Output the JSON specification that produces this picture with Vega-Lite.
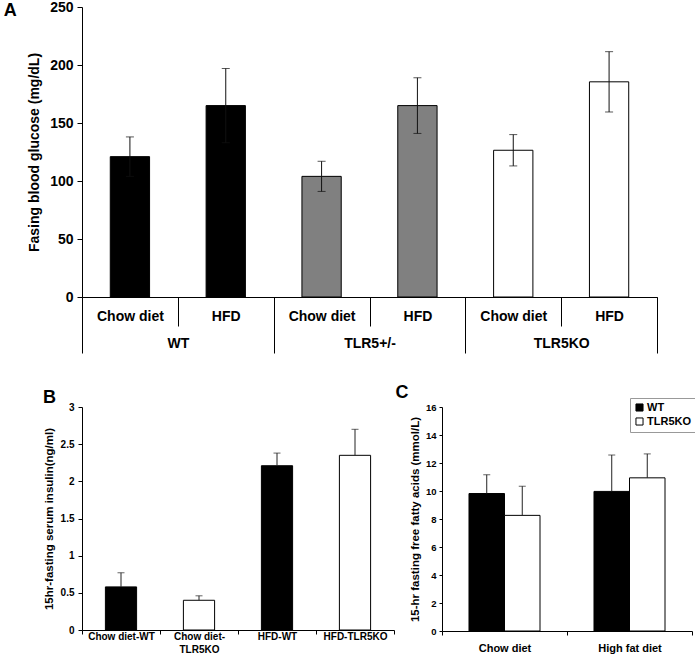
{
  "$schema": "https://vega.github.io/schema/vega-lite/v6.json",
  "padding": {"left": 3, "top": 0, "right": 0, "bottom": 0},
  "background": "white",
  "config": {
    "font": "Liberation Sans",
    "view": {"stroke": null},
    "axis": {
      "labelFont": "Liberation Sans",
      "titleFont": "Liberation Sans",
      "labelFontWeight": "bold",
      "titleFontWeight": "bold",
      "labelColor": "#000",
      "titleColor": "#000",
      "domainColor": "#000",
      "tickColor": "#000",
      "grid": false,
      "labelAngle": 0
    },
    "title": {"font": "Liberation Sans", "fontWeight": "bold", "fontSize": 18, "color": "#000", "anchor": "start", "frame": "bounds"}
  },
  "spacing": 30,
  "resolve": {"scale": {"x": "independent", "y": "independent", "color": "independent"}, "legend": {"color": "independent"}},
  "vconcat": [
    {
      "hconcat": [
        {
          "width": 575,
          "height": 290,
          "title": {"text": "A", "dx": -24, "dy": 20, "offset": 0},
          "data": {"values": [
            {"group": "WT", "diet": "Chow diet", "cond": "WT|Chow diet", "mean": 121, "lo": 104, "hi": 138},
            {"group": "WT", "diet": "HFD", "cond": "WT|HFD", "mean": 165, "lo": 133, "hi": 197},
            {"group": "TLR5+/-", "diet": "Chow diet", "cond": "TLR5+/-|Chow diet", "mean": 104, "lo": 91, "hi": 117},
            {"group": "TLR5+/-", "diet": "HFD", "cond": "TLR5+/-|HFD", "mean": 165, "lo": 141, "hi": 189},
            {"group": "TLR5KO", "diet": "Chow diet", "cond": "TLR5KO|Chow diet", "mean": 126.5, "lo": 113, "hi": 140},
            {"group": "TLR5KO", "diet": "HFD", "cond": "TLR5KO|HFD", "mean": 185.5, "lo": 159.5, "hi": 211.5}
          ]},
          "resolve": {"scale": {"x": "independent"}, "axis": {"x": "independent"}},
          "layer": [
            {
              "encoding": {
                "x": {
                  "field": "cond", "type": "nominal", "sort": null,
                  "scale": {"paddingInner": 0, "paddingOuter": 0},
                  "axis": {
                    "title": null, "orient": "bottom", "tickBand": "extent", "tickSize": 29,
                    "labelPadding": -17, "labelFontSize": 14,
                    "labelExpr": "datum.label == '' ? '' : ((datum.label == 'WT|HFD' || datum.label == 'TLR5+/-|HFD' || datum.label == 'TLR5KO|HFD') ? 'HFD' : 'Chow diet')"
                  }
                },
                "y": {
                  "type": "quantitative",
                  "scale": {"domain": [0, 250], "nice": false},
                  "axis": {
                    "title": "Fasing blood glucose (mg/dL)", "titleFontSize": 14, "labelFontSize": 14,
                    "values": [0, 50, 100, 150, 200, 250], "tickSize": 5, "labelPadding": 4, "titlePadding": 8
                  }
                }
              },
              "layer": [
                {
                  "mark": {"type": "bar", "width": {"band": 0.41}, "stroke": "#000", "strokeWidth": 1},
                  "encoding": {
                    "y": {"field": "mean", "type": "quantitative"},
                    "color": {"field": "group", "type": "nominal", "scale": {"domain": ["WT", "TLR5+/-", "TLR5KO"], "range": ["#000000", "#808080", "#ffffff"]}, "legend": null}
                  }
                },
                {
                  "mark": {"type": "rule", "color": "#111", "strokeWidth": 1},
                  "encoding": {"y": {"field": "lo", "type": "quantitative"}, "y2": {"field": "hi"}}
                },
                {
                  "mark": {"type": "tick", "color": "#111", "size": 8, "thickness": 1},
                  "encoding": {"y": {"field": "hi", "type": "quantitative"}}
                },
                {
                  "mark": {"type": "tick", "color": "#111", "size": 8, "thickness": 1},
                  "encoding": {"y": {"field": "lo", "type": "quantitative"}}
                }
              ]
            },
            {
              "mark": {"type": "bar", "opacity": 0},
              "encoding": {
                "x": {
                  "field": "group", "type": "nominal",
                  "scale": {"domain": ["WT", "TLR5+/-", "TLR5KO"], "paddingInner": 0, "paddingOuter": 0},
                  "axis": {
                    "title": null, "orient": "bottom", "offset": 0, "domain": false, "tickBand": "extent", "tickSize": 56,
                    "labelPadding": -17, "labelFontSize": 14
                  }
                }
              }
            }
          ]
        }
      ]
    },
    {
      "spacing": 0,
      "resolve": {"scale": {"x": "independent", "y": "independent", "color": "independent"}, "legend": {"color": "independent"}},
      "hconcat": [
        {
          "vconcat": [
            {
              "width": 312,
              "height": 223,
              "title": {"text": "B", "dx": 0, "dy": 5, "offset": 0},
              "data": {"values": [
                {"cond": "Chow diet-WT", "genotype": "WT", "mean": 0.58, "hi": 0.77},
                {"cond": "Chow diet-TLR5KO", "genotype": "TLR5KO", "mean": 0.40, "hi": 0.46},
                {"cond": "HFD-WT", "genotype": "WT", "mean": 2.21, "hi": 2.38},
                {"cond": "HFD-TLR5KO", "genotype": "TLR5KO", "mean": 2.35, "hi": 2.70}
              ]},
              "encoding": {
                "x": {
                  "field": "cond", "type": "nominal", "sort": null,
                  "scale": {"paddingInner": 0, "paddingOuter": 0},
                  "axis": {
                    "title": null, "tickBand": "extent", "tickSize": 4, "labelPadding": -3, "labelFontSize": 10,
                    "labelLineHeight": 13,
                    "labelExpr": "datum.label == 'Chow diet-TLR5KO' ? ['Chow diet-', 'TLR5KO'] : datum.label"
                  }
                },
                "y": {
                  "type": "quantitative",
                  "scale": {"domain": [0, 3], "nice": false},
                  "axis": {
                    "title": "15hr-fasting serum insulin(ng/ml)", "titleFontSize": 11.5, "labelFontSize": 10, "format": "~g",
                    "values": [0, 0.5, 1, 1.5, 2, 2.5, 3], "tickSize": 4, "labelPadding": 4, "titlePadding": 6
                  }
                }
              },
              "layer": [
                {
                  "mark": {"type": "bar", "width": {"band": 0.4}, "stroke": "#000", "strokeWidth": 1},
                  "encoding": {
                    "y": {"field": "mean", "type": "quantitative"},
                    "color": {"field": "genotype", "type": "nominal", "scale": {"domain": ["WT", "TLR5KO"], "range": ["#000000", "#ffffff"]}, "legend": null}
                  }
                },
                {
                  "mark": {"type": "rule", "color": "#222", "strokeWidth": 1},
                  "encoding": {"y": {"field": "mean", "type": "quantitative"}, "y2": {"field": "hi"}}
                },
                {
                  "mark": {"type": "tick", "color": "#222", "size": 7, "thickness": 1},
                  "encoding": {"y": {"field": "hi", "type": "quantitative"}}
                }
              ]
            }
          ]
        },
        {
          "vconcat": [
            {
              "width": 250,
              "height": 224,
              "title": {"text": "C", "dx": -14, "dy": 14, "offset": 14},
              "data": {"values": [
                {"diet": "Chow diet", "genotype": "WT", "mean": 9.82, "hi": 11.16},
                {"diet": "Chow diet", "genotype": "TLR5KO", "mean": 8.26, "hi": 10.34},
                {"diet": "High fat diet", "genotype": "WT", "mean": 9.97, "hi": 12.57},
                {"diet": "High fat diet", "genotype": "TLR5KO", "mean": 10.94, "hi": 12.65}
              ]},
              "encoding": {
                "x": {
                  "field": "diet", "type": "nominal", "sort": null,
                  "scale": {"paddingInner": 0, "paddingOuter": 0},
                  "axis": {"title": null, "tickBand": "extent", "tickSize": 4, "labelPadding": 7, "labelFontSize": 11}
                },
                "xOffset": {"field": "genotype", "type": "nominal", "sort": ["WT", "TLR5KO"], "scale": {"paddingInner": 0, "paddingOuter": 0.76}},
                "y": {
                  "type": "quantitative",
                  "scale": {"domain": [0, 16], "nice": false},
                  "axis": {
                    "title": "15-hr fasting free fatty acids (mmol/L)", "titleFontSize": 11.5, "labelFontSize": 9.5,
                    "values": [0, 2, 4, 6, 8, 10, 12, 14, 16], "tickSize": 3, "labelPadding": 3, "titlePadding": 5
                  }
                }
              },
              "layer": [
                {
                  "mark": {"type": "bar", "stroke": "#000", "strokeWidth": 1},
                  "encoding": {
                    "y": {"field": "mean", "type": "quantitative"},
                    "color": {
                      "field": "genotype", "type": "nominal",
                      "scale": {"domain": ["WT", "TLR5KO"], "range": ["#000000", "#ffffff"]},
                      "legend": {
                        "title": null, "orient": "none", "legendX": 188, "legendY": -9,
                        "symbolType": "square", "symbolSize": 50, "symbolStrokeColor": "#000", "symbolStrokeWidth": 1,
                        "labelFontSize": 11, "labelFontWeight": "bold", "labelColor": "#000", "labelFont": "Liberation Sans",
                        "strokeColor": "#999", "padding": 4, "rowPadding": 1, "labelOffset": 2
                      }
                    }
                  }
                },
                {
                  "mark": {"type": "rule", "color": "#222", "strokeWidth": 1},
                  "encoding": {"y": {"field": "mean", "type": "quantitative"}, "y2": {"field": "hi"}}
                },
                {
                  "mark": {"type": "tick", "color": "#222", "size": 7, "thickness": 1},
                  "encoding": {"y": {"field": "hi", "type": "quantitative"}}
                }
              ]
            }
          ]
        }
      ]
    }
  ]
}
